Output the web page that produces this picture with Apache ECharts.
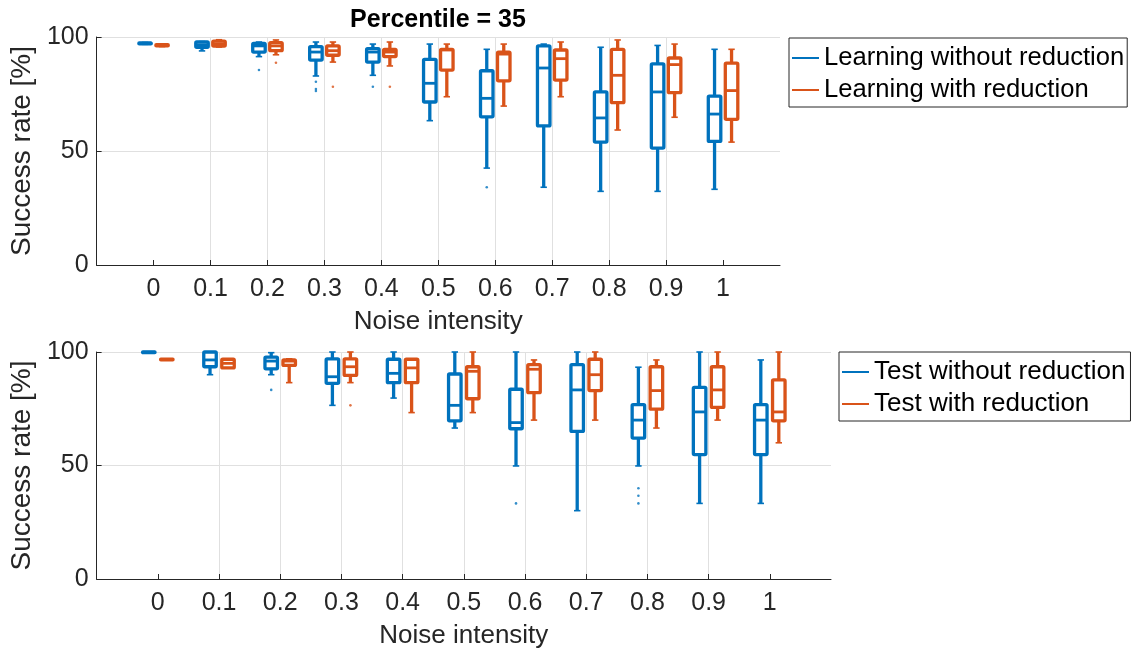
<!DOCTYPE html>
<html>
<head>
<meta charset="utf-8">
<script src="https://cdn.jsdelivr.net/npm/echarts@6/dist/echarts.min.js"></script>
<style>html,body{margin:0;padding:0;background:#fff}#c{width:1133px;height:652px}</style>
</head>
<body>
<div id="c"></div>
<script>
// Noise intensity categories
const categories = [0, 0.1, 0.2, 0.3, 0.4, 0.5, 0.6, 0.7, 0.8, 0.9, 1];
const xTickLabels = ['0', '0.1', '0.2', '0.3', '0.4', '0.5', '0.6', '0.7', '0.8', '0.9', '1'];
const yTicks = [0, 50, 100];

// [min, q1, median, q3, max] per category
const learnWithout = [
  [96.8, 97.0, 97.2, 97.4, 97.6],
  [93.9, 95.5, 96.5, 97.8, 98.0],
  [91.4, 93.4, 96.1, 97.2, 97.8],
  [82.9, 89.9, 93.4, 95.8, 97.8],
  [83.2, 89.0, 93.4, 94.9, 96.9],
  [63.3, 71.5, 79.7, 90.2, 96.9],
  [42.5, 65.0, 73.1, 85.2, 94.6],
  [34.1, 61.0, 86.4, 96.1, 96.9],
  [32.3, 53.9, 64.5, 75.9, 95.5],
  [32.3, 51.3, 75.9, 88.2, 96.3],
  [33.2, 54.2, 66.2, 74.1, 94.6]
];
const learnWith = [
  [95.8, 96.1, 96.4, 96.6, 96.9],
  [95.6, 96.0, 97.0, 98.2, 98.8],
  [92.2, 94.0, 96.1, 97.5, 98.7],
  [89.0, 92.0, 94.0, 96.1, 97.8],
  [87.3, 91.4, 93.4, 94.6, 97.8],
  [73.8, 85.5, 94.3, 94.6, 96.9],
  [69.7, 80.8, 92.5, 93.4, 96.9],
  [73.8, 81.1, 90.5, 94.3, 97.8],
  [59.2, 71.2, 83.2, 94.6, 98.7],
  [64.8, 75.6, 87.9, 90.8, 96.9],
  [53.9, 63.9, 76.5, 88.5, 94.6]
];
const testWithout = [
  [99.5, 99.7, 99.9, 100, 100],
  [90.0, 93.5, 96.5, 100, 100],
  [90.0, 92.6, 96.0, 97.7, 99.7],
  [76.5, 86.2, 89.1, 97.0, 100],
  [79.7, 86.5, 90.6, 96.8, 100],
  [66.5, 69.7, 76.5, 90.3, 100],
  [49.8, 66.2, 68.9, 83.6, 100],
  [30.1, 65.0, 83.3, 94.4, 100],
  [49.8, 62.1, 70.0, 76.8, 93.3],
  [33.3, 54.8, 73.6, 84.4, 100],
  [33.3, 54.8, 70.0, 76.8, 96.5]
];
const testWith = [
  [96.5, 96.6, 96.7, 96.8, 96.9],
  [93.0, 93.0, 95.0, 96.8, 96.8],
  [86.5, 94.1, 96.0, 96.5, 97.0],
  [86.5, 89.7, 93.5, 97.0, 100],
  [73.3, 86.5, 93.0, 96.8, 97.0],
  [73.3, 79.4, 91.5, 93.5, 100],
  [70.0, 82.1, 92.4, 94.4, 96.5],
  [70.0, 83.0, 90.0, 96.8, 100],
  [66.5, 74.8, 83.0, 93.5, 96.5],
  [70.0, 75.6, 83.3, 93.5, 100],
  [60.0, 69.7, 73.6, 87.7, 100]
];

// outliers [noise, value]
const learnWithoutOut = [[0.2, 85.5], [0.3, 80.4], [0.3, 77.2], [0.3, 76.3], [0.4, 78.2], [0.6, 34.1]];
const learnWithOut = [[0.2, 88.7], [0.3, 78.2], [0.4, 78.2]];
const testWithoutOut = [[0.2, 83.3], [0.6, 33.3], [0.8, 40.0], [0.8, 36.7], [0.8, 33.3]];
const testWithOut = [[0.3, 76.5]];

const BLUE = '#0072BD', ORANGE = '#D95319';
const FONT = 'Liberation Sans';
const TXT = '#262626';

function boxData(arr) { return categories.map((c, i) => [c].concat(arr[i])); }

function makeRender(off, color) {
  return function (params, api) {
    const x = api.value(0);
    const cx = api.coord([x, 0])[0] + off;
    const Y = v => api.coord([x, v])[1];
    const yMin = Y(api.value(1)), yQ1 = Y(api.value(2)), yMed = Y(api.value(3)), yQ3 = Y(api.value(4)), yMax = Y(api.value(5));
    const w = 12.5, cap = 3.2;
    const st = { stroke: color, lineWidth: 3.3, fill: null, lineJoin: 'round', lineCap: 'butt' };
    const thin = { stroke: color, lineWidth: 1.6 };
    return {
      type: 'group',
      children: [
        { type: 'line', shape: { x1: cx, y1: yQ3, x2: cx, y2: yMax }, style: st },
        { type: 'line', shape: { x1: cx, y1: yQ1, x2: cx, y2: yMin }, style: st },
        { type: 'line', shape: { x1: cx - cap, y1: yMax, x2: cx + cap, y2: yMax }, style: thin },
        { type: 'line', shape: { x1: cx - cap, y1: yMin, x2: cx + cap, y2: yMin }, style: thin },
        { type: 'rect', shape: { x: cx - w / 2, y: yQ3, width: w, height: Math.max(yQ1 - yQ3, 0.5), r: 1 }, style: st },
        { type: 'line', shape: { x1: cx - w / 2, y1: yMed, x2: cx + w / 2, y2: yMed }, style: { stroke: color, lineWidth: 2.8 } }
      ]
    };
  };
}

function xAxis(gi) {
  return {
    type: 'value', gridIndex: gi, min: -0.1, max: 1.1, interval: 0.1,
    name: 'Noise intensity', nameLocation: 'middle', nameGap: 44,
    nameTextStyle: { fontFamily: FONT, fontSize: 26, color: TXT },
    axisLine: { show: true, onZero: false, lineStyle: { color: TXT, width: 1 } },
    axisTick: { show: true, inside: true, length: 5, customValues: categories, lineStyle: { color: TXT } },
    axisLabel: {
      customValues: categories, margin: 12, fontFamily: FONT, fontSize: 25, color: TXT,
      formatter: v => { const i = categories.findIndex(c => Math.abs(c - v) < 1e-6); return i >= 0 ? xTickLabels[i] : ''; }
    },
    splitLine: { show: true, showMinLine: false, showMaxLine: false, lineStyle: { color: '#e0e0e0', width: 1 } }
  };
}
function yAxis(gi) {
  return {
    type: 'value', gridIndex: gi, min: 0, max: 100, interval: 50,
    name: 'Success rate [%]', nameLocation: 'middle', nameGap: 46, nameRotate: 90,
    nameTextStyle: { fontFamily: FONT, fontSize: 28, color: TXT },
    axisLine: { show: true, onZero: false, lineStyle: { color: TXT, width: 1 } },
    axisTick: { show: true, inside: true, length: 5, lineStyle: { color: TXT } },
    axisLabel: { margin: 8, fontFamily: FONT, fontSize: 25, color: TXT, formatter: v => yTicks.includes(v) ? String(v) : '' },
    splitLine: { show: true, showMinLine: false, lineStyle: { color: '#e0e0e0', width: 1 } }
  };
}

function boxSeries(name, arr, gi, off, color) {
  return {
    name: name, type: 'custom', xAxisIndex: gi, yAxisIndex: gi,
    itemStyle: { color: color },
    renderItem: makeRender(off, color),
    encode: { x: 0, y: [1, 2, 3, 4, 5] },
    data: boxData(arr), z: 3
  };
}
function outSeries(name, arr, gi, off, color) {
  return {
    name: name, type: 'scatter', xAxisIndex: gi, yAxisIndex: gi,
    symbol: 'circle', symbolSize: 2.6, symbolOffset: [off, 0],
    itemStyle: { color: color }, data: arr, z: 4, silent: true
  };
}

function legend(left, top, names, padRight, fontSize) {
  return {
    orient: 'vertical', left: left, top: top, padding: [5, padRight, 2, 3],
    borderColor: TXT, borderWidth: 1, backgroundColor: '#fff',
    itemWidth: 27, itemHeight: 2, itemGap: 2, itemTextGap: 2, selectedMode: false,
    icon: 'rect',
    textStyle: { fontFamily: FONT, fontSize: fontSize, color: '#000', lineHeight: 30 },
    data: names.map((n, i) => ({ name: n, itemStyle: { color: i === 0 ? BLUE : ORANGE } }))
  };
}

const chart = echarts.init(document.getElementById('c'), null, { renderer: 'canvas' });
chart.setOption({
  animation: false,
  backgroundColor: '#fff',
  title: {
    text: 'Percentile = 35', left: 433, top: 3, textAlign: 'center',
    textStyle: { fontFamily: FONT, fontSize: 25, fontWeight: 'bold', color: '#000' }
  },
  legend: [
    legend(789, 38, ['Learning without reduction', 'Learning with reduction'], 3, 25.6),
    legend(839, 352, ['Test without reduction', 'Test with reduction'], 5, 26)
  ],
  grid: [
    { left: 91, top: 37, width: 689, height: 228, containLabel: false },
    { left: 91, top: 352, width: 740, height: 227, containLabel: false }
  ],
  xAxis: [xAxis(0), xAxis(1)],
  yAxis: [yAxis(0), yAxis(1)],
  series: [
    boxSeries('Learning without reduction', learnWithout, 0, -8.5, BLUE),
    boxSeries('Learning with reduction', learnWith, 0, 8.5, ORANGE),
    outSeries('Learning without reduction', learnWithoutOut, 0, -8.5, BLUE),
    outSeries('Learning with reduction', learnWithOut, 0, 8.5, ORANGE),
    boxSeries('Test without reduction', testWithout, 1, -9, BLUE),
    boxSeries('Test with reduction', testWith, 1, 9, ORANGE),
    outSeries('Test without reduction', testWithoutOut, 1, -9, BLUE),
    outSeries('Test with reduction', testWithOut, 1, 9, ORANGE)
  ]
});
</script>
</body>
</html>
